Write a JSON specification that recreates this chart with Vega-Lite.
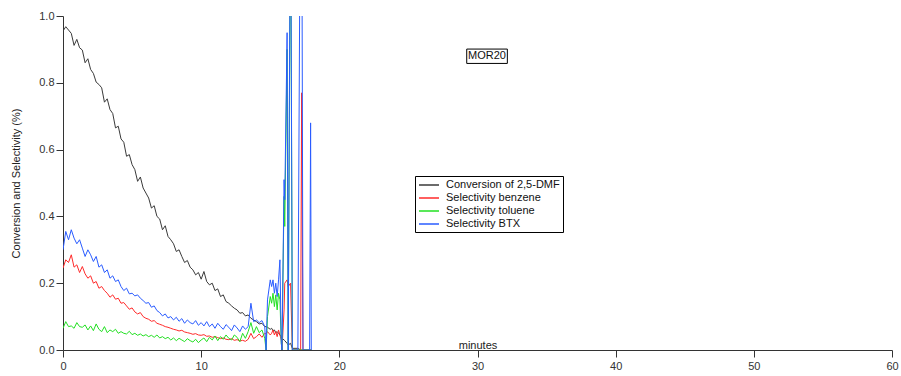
{
  "$schema": "https://vega.github.io/schema/vega-lite/v6.json",
  "width": 829,
  "height": 334,
  "autosize": "none",
  "padding": {"left": 63, "top": 16, "right": 9, "bottom": 26},
  "background": "white",
  "config": {
    "view": {"stroke": null},
    "font": "Liberation Sans",
    "axis": {"grid": false, "domainColor": "#333333", "tickColor": "#333333", "labelColor": "#333333", "titleColor": "#222222", "labelFontSize": 11, "titleFontSize": 11, "titleFontWeight": "normal", "labelFont": "Liberation Sans", "titleFont": "Liberation Sans"}
  },
  "datasets": {
    "runs": [
      {"t": 0.0, "c": 0.955, "b": 0.245, "to": 0.065, "x": 0.30},
      {"t": 0.2, "c": 0.968, "b": 0.27, "to": 0.085, "x": 0.355},
      {"t": 0.4, "c": 0.958, "b": 0.262, "to": 0.07, "x": 0.33},
      {"t": 0.6, "c": 0.948, "b": 0.285, "to": 0.072, "x": 0.36},
      {"t": 0.8, "c": 0.912, "b": 0.248, "to": 0.065, "x": 0.335},
      {"t": 1.0, "c": 0.93, "b": 0.255, "to": 0.082, "x": 0.318},
      {"t": 1.2, "c": 0.905, "b": 0.232, "to": 0.07, "x": 0.33},
      {"t": 1.4, "c": 0.898, "b": 0.25, "to": 0.068, "x": 0.305},
      {"t": 1.6, "c": 0.86, "b": 0.228, "to": 0.075, "x": 0.28},
      {"t": 1.8, "c": 0.872, "b": 0.215, "to": 0.06, "x": 0.30},
      {"t": 2.0, "c": 0.84, "b": 0.222, "to": 0.072, "x": 0.285},
      {"t": 2.2, "c": 0.828, "b": 0.2, "to": 0.058, "x": 0.265},
      {"t": 2.4, "c": 0.802, "b": 0.205, "to": 0.078, "x": 0.28},
      {"t": 2.6, "c": 0.795, "b": 0.185, "to": 0.062, "x": 0.248},
      {"t": 2.8, "c": 0.785, "b": 0.19, "to": 0.055, "x": 0.255},
      {"t": 3.0, "c": 0.742, "b": 0.178, "to": 0.07, "x": 0.232},
      {"t": 3.2, "c": 0.752, "b": 0.17, "to": 0.052, "x": 0.24},
      {"t": 3.4, "c": 0.72, "b": 0.158, "to": 0.06, "x": 0.215},
      {"t": 3.6, "c": 0.708, "b": 0.165, "to": 0.055, "x": 0.222},
      {"t": 3.8, "c": 0.665, "b": 0.152, "to": 0.062, "x": 0.205},
      {"t": 4.0, "c": 0.67, "b": 0.155, "to": 0.05, "x": 0.21},
      {"t": 4.2, "c": 0.632, "b": 0.14, "to": 0.055, "x": 0.19},
      {"t": 4.4, "c": 0.622, "b": 0.142, "to": 0.05, "x": 0.178},
      {"t": 4.6, "c": 0.58, "b": 0.132, "to": 0.048, "x": 0.185},
      {"t": 4.8, "c": 0.585, "b": 0.122, "to": 0.056, "x": 0.168},
      {"t": 5.0, "c": 0.555, "b": 0.126, "to": 0.046, "x": 0.17},
      {"t": 5.2, "c": 0.54, "b": 0.114, "to": 0.05, "x": 0.162},
      {"t": 5.4, "c": 0.505, "b": 0.108, "to": 0.044, "x": 0.165},
      {"t": 5.6, "c": 0.518, "b": 0.112, "to": 0.048, "x": 0.155},
      {"t": 5.8, "c": 0.485, "b": 0.1, "to": 0.042, "x": 0.148},
      {"t": 6.0, "c": 0.47, "b": 0.095, "to": 0.046, "x": 0.14},
      {"t": 6.2, "c": 0.455, "b": 0.092, "to": 0.04, "x": 0.142},
      {"t": 6.4, "c": 0.425, "b": 0.086, "to": 0.044, "x": 0.128},
      {"t": 6.6, "c": 0.432, "b": 0.088, "to": 0.038, "x": 0.132},
      {"t": 6.8, "c": 0.40, "b": 0.08, "to": 0.045, "x": 0.118},
      {"t": 7.0, "c": 0.392, "b": 0.077, "to": 0.036, "x": 0.112},
      {"t": 7.2, "c": 0.36, "b": 0.074, "to": 0.04, "x": 0.102},
      {"t": 7.4, "c": 0.372, "b": 0.07, "to": 0.034, "x": 0.108},
      {"t": 7.6, "c": 0.34, "b": 0.068, "to": 0.038, "x": 0.096},
      {"t": 7.8, "c": 0.33, "b": 0.065, "to": 0.03, "x": 0.10},
      {"t": 8.0, "c": 0.318, "b": 0.062, "to": 0.036, "x": 0.09},
      {"t": 8.2, "c": 0.295, "b": 0.06, "to": 0.028, "x": 0.098},
      {"t": 8.4, "c": 0.30, "b": 0.057, "to": 0.035, "x": 0.086},
      {"t": 8.6, "c": 0.28, "b": 0.059, "to": 0.03, "x": 0.094},
      {"t": 8.8, "c": 0.262, "b": 0.054, "to": 0.025, "x": 0.08},
      {"t": 9.0, "c": 0.268, "b": 0.052, "to": 0.034, "x": 0.09},
      {"t": 9.2, "c": 0.248, "b": 0.05, "to": 0.028, "x": 0.082},
      {"t": 9.4, "c": 0.24, "b": 0.047, "to": 0.024, "x": 0.078},
      {"t": 9.6, "c": 0.225, "b": 0.049, "to": 0.032, "x": 0.088},
      {"t": 9.8, "c": 0.232, "b": 0.045, "to": 0.022, "x": 0.074},
      {"t": 10.0, "c": 0.212, "b": 0.044, "to": 0.03, "x": 0.082},
      {"t": 10.2, "c": 0.235, "b": 0.046, "to": 0.036, "x": 0.072},
      {"t": 10.4, "c": 0.205, "b": 0.041, "to": 0.025, "x": 0.085},
      {"t": 10.6, "c": 0.195, "b": 0.042, "to": 0.038, "x": 0.07},
      {"t": 10.8, "c": 0.20, "b": 0.038, "to": 0.03, "x": 0.078},
      {"t": 11.0, "c": 0.178, "b": 0.04, "to": 0.042, "x": 0.065},
      {"t": 11.2, "c": 0.183, "b": 0.037, "to": 0.028, "x": 0.08},
      {"t": 11.4, "c": 0.16, "b": 0.034, "to": 0.04, "x": 0.07},
      {"t": 11.6, "c": 0.165, "b": 0.036, "to": 0.032, "x": 0.062},
      {"t": 11.8, "c": 0.145, "b": 0.032, "to": 0.045, "x": 0.076},
      {"t": 12.0, "c": 0.14, "b": 0.031, "to": 0.035, "x": 0.068},
      {"t": 12.2, "c": 0.132, "b": 0.034, "to": 0.03, "x": 0.058},
      {"t": 12.4, "c": 0.125, "b": 0.029, "to": 0.045, "x": 0.075},
      {"t": 12.6, "c": 0.12, "b": 0.031, "to": 0.038, "x": 0.066},
      {"t": 12.8, "c": 0.11, "b": 0.027, "to": 0.025, "x": 0.055},
      {"t": 13.0, "c": 0.112, "b": 0.029, "to": 0.05, "x": 0.072},
      {"t": 13.2, "c": 0.102, "b": 0.026, "to": 0.035, "x": 0.062},
      {"t": 13.4, "c": 0.105, "b": 0.032, "to": 0.055, "x": 0.07},
      {"t": 13.6, "c": 0.095, "b": 0.05, "to": 0.082, "x": 0.14},
      {"t": 13.8, "c": 0.09, "b": 0.034, "to": 0.05, "x": 0.085},
      {"t": 14.0, "c": 0.085, "b": 0.04, "to": 0.07, "x": 0.09},
      {"t": 14.2, "c": 0.078, "b": 0.048, "to": 0.052, "x": 0.082},
      {"t": 14.4, "c": 0.08, "b": 0.038, "to": 0.06, "x": 0.088},
      {"t": 14.6, "c": 0.07, "b": 0.05, "to": 0.035, "x": 0.07},
      {"t": 14.7, "c": 0.07, "b": 0.048, "to": 0.0, "x": 0.0},
      {"t": 14.8, "c": 0.068, "b": 0.055, "to": 0.1, "x": 0.15},
      {"t": 15.0, "c": 0.062, "b": 0.045, "to": 0.16, "x": 0.21},
      {"t": 15.1, "c": 0.065, "b": 0.05, "to": 0.14, "x": 0.19},
      {"t": 15.2, "c": 0.058, "b": 0.06, "to": 0.17, "x": 0.21},
      {"t": 15.3, "c": 0.06, "b": 0.045, "to": 0.13, "x": 0.17},
      {"t": 15.4, "c": 0.052, "b": 0.055, "to": 0.165, "x": 0.20},
      {"t": 15.5, "c": 0.055, "b": 0.04, "to": 0.12, "x": 0.16},
      {"t": 15.6, "c": 0.05, "b": 0.06, "to": 0.17, "x": 0.21},
      {"t": 15.7, "c": 0.045, "b": 0.045, "to": 0.15, "x": 0.27},
      {"t": 15.8, "c": 0.04, "b": 0.03, "to": 0.02, "x": 0.02},
      {"t": 15.85, "c": 0.035, "b": 0.0, "to": 0.0, "x": 0.0},
      {"t": 16.0, "c": 0.03, "b": 0.12, "to": 0.46, "x": 0.51},
      {"t": 16.05, "c": 0.028, "b": 0.2, "to": 0.37, "x": 0.45},
      {"t": 16.22, "c": 0.02, "b": 0.21, "to": 0.9, "x": 0.95},
      {"t": 16.3, "c": 0.015, "b": 0.19, "to": 0.0, "x": 0.0},
      {"t": 16.47, "c": 0.02, "b": 0.2, "to": 1.4, "x": 1.5},
      {"t": 16.6, "c": 0.005, "b": 0.0, "to": 0.0, "x": 0.0},
      {"t": 17.0, "c": 0.005, "b": 0.0, "to": 0.0, "x": 0.0},
      {"t": 17.2, "c": 0.0, "b": 0.0, "to": 0.0, "x": 1.6},
      {"t": 17.27, "c": 0.0, "b": 0.77, "to": 0.0, "x": 1.6},
      {"t": 17.37, "c": 0.0, "b": 0.0, "to": 0.0, "x": 0.0},
      {"t": 17.85, "c": 0.0, "b": 0.0, "to": 0.0, "x": 0.0},
      {"t": 17.92, "c": 0.0, "b": 0.0, "to": 0.0, "x": 0.68},
      {"t": 17.97, "c": 0.0, "b": 0.0, "to": 0.0, "x": 0.0}
    ],
    "notes": [
      {"x1": 29.22, "x2": 32.16, "y1": 0.858, "y2": 0.901, "xm": 30.69, "ym": 0.879, "label": "MOR20"}
    ]
  },
  "layer": [
    {
      "data": {"name": "runs"},
      "transform": [
        {"fold": ["c", "b", "to", "x"], "as": ["key", "value"]}
      ],
      "mark": {"type": "line", "strokeWidth": 1, "clip": true, "interpolate": "linear"},
      "encoding": {
        "x": {"field": "t", "type": "quantitative", "scale": {"domain": [0, 60], "nice": false},
          "axis": {"values": [0, 10, 20, 30, 40, 50, 60], "tickSize": 7, "labelPadding": 3, "title": "minutes", "titleY": -2, "titleBaseline": "alphabetic", "labelFlush": false}},
        "y": {"field": "value", "type": "quantitative", "scale": {"domain": [0, 1], "nice": false},
          "axis": {"values": [0, 0.2, 0.4, 0.6, 0.8, 1.0], "format": ".1f", "tickSize": 7, "labelPadding": 2, "title": "Conversion and Selectivity (%)", "titlePadding": 17, "labelFlush": false}},
        "color": {"field": "key", "type": "nominal",
          "scale": {"domain": ["c", "b", "to", "x"], "range": ["#3a3a3a", "#ff2a2a", "#22e022", "#2a5cff"]},
          "legend": {"title": null, "orient": "none", "legendX": 352, "legendY": 160, "direction": "vertical",
            "strokeColor": "#000000", "fillColor": "#ffffff", "padding": 3, "symbolType": "M-2,0L2,0", "symbolSize": 100, "symbolStrokeWidth": 1.5, "symbolOffset": 5,
            "labelFontSize": 11, "labelFont": "Liberation Sans", "labelColor": "#111111", "labelOffset": 11, "rowPadding": 2, "labelLimit": 200,
            "labelExpr": "datum.value == 'c' ? 'Conversion of 2,5-DMF' : datum.value == 'b' ? 'Selectivity benzene' : datum.value == 'to' ? 'Selectivity toluene' : 'Selectivity BTX'"}
        }
      }
    },
    {
      "data": {"name": "notes"},
      "mark": {"type": "rect", "fill": "white", "stroke": "#000000", "strokeWidth": 1},
      "encoding": {
        "x": {"field": "x1", "type": "quantitative"},
        "x2": {"field": "x2"},
        "y": {"field": "y1", "type": "quantitative"},
        "y2": {"field": "y2"}
      }
    },
    {
      "data": {"name": "notes"},
      "mark": {"type": "text", "fontSize": 11, "font": "Liberation Sans", "color": "#111111", "align": "center", "baseline": "middle"},
      "encoding": {
        "x": {"field": "xm", "type": "quantitative"},
        "y": {"field": "ym", "type": "quantitative"},
        "text": {"field": "label"}
      }
    }
  ]
}
